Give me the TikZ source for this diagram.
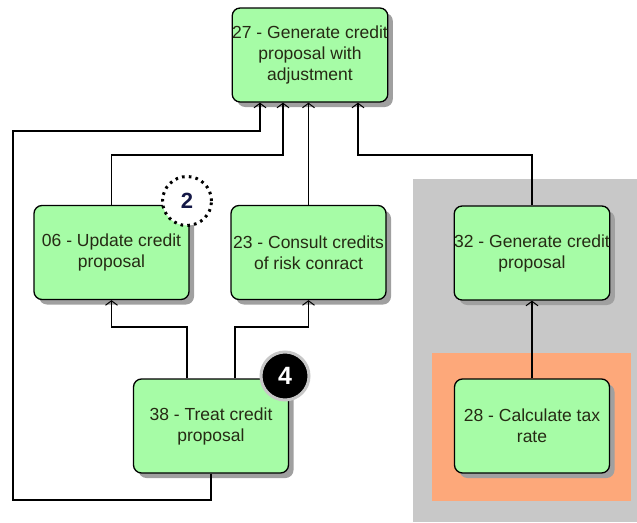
\documentclass[tikz,border=0pt]{standalone}
\usepackage{fontspec}
\setmainfont{Liberation Sans}
\usetikzlibrary{arrows.meta,shadows,calc}

\definecolor{procgreen}{RGB}{166,252,166}
\definecolor{proctext}{RGB}{38,42,20}
\definecolor{groupgray}{RGB}{200,200,200}
\definecolor{grouporange}{RGB}{253,168,122}
\definecolor{shadowgray}{RGB}{160,160,160}
\definecolor{badgeblue}{RGB}{20,24,70}

\tikzset{
  proc/.style={draw=black, line width=1.3pt, fill=procgreen, rounded corners=8pt,
    minimum width=155pt, minimum height=94pt, inner sep=0pt, align=center,
    text=proctext, font=\fontsize{17.5}{21}\selectfont,
    drop shadow={shadow xshift=5pt, shadow yshift=-5pt, fill=shadowgray, opacity=1}},
  flow/.style={draw=black, line width=1.1pt,
    -{Straight Barb[length=4.5pt,width=12pt,line width=1pt]}},
  dotbadge/.style={circle, fill=white, draw=black, line width=3pt,
    dash pattern=on 2.6pt off 4.2pt, minimum size=49pt, inner sep=0pt,
    text=badgeblue, font=\fontsize{22}{22}\selectfont\bfseries},
  blackbadge/.style={circle, fill=black, draw=black!22, line width=3pt,
    minimum size=48pt, inner sep=0pt, text=white,
    font=\fontsize{25}{26}\selectfont\bfseries},
}

\begin{document}
\begin{tikzpicture}[x=1pt,y=-1pt]
  \useasboundingbox (0,0) rectangle (637,522);

  % group frames
  \fill[groupgray] (413,179) rectangle (637,522);
  \fill[grouporange] (432,353) rectangle (631,501);

  % process steps
  \node[proc] (n27) at (310,55) {27 - Generate credit\\proposal with\\adjustment};
  \node[proc] (n06) at (111.5,252.5) {06 - Update credit\\proposal};
  \node[proc] (n23) at (308.5,252.5) {23 - Consult credits\\of risk conract};
  \node[proc] (n32) at (532,253) {32 - Generate credit\\proposal};
  \node[proc] (n38) at (211,426) {38 - Treat credit\\proposal};
  \node[proc] (n28) at (532,426) {28 - Calculate tax\\rate};

  % bend points
  \coordinate (r1) at (13,500);
  \coordinate (r2) at (260,131);
  \coordinate (r3) at (283,155);
  \coordinate (r4) at (358,155);
  \coordinate (r5) at (187,327);
  \coordinate (r6) at (235,327);

  % connectors
  \draw[flow] (n38.south) |- (r1) |- (r2) -- (r2 |- n27.south);
  \draw[flow] (n06.north) |- (r3) -- (r3 |- n27.south);
  \draw[flow] (n23.north) -- (n23.north |- n27.south);
  \draw[flow] (n32.north) |- (r4) -- (r4 |- n27.south);
  \draw[flow] (n38.north -| r5) |- (n06.south |- r5) -- (n06.south);
  \draw[flow] (n38.north -| r6) |- (n23.south |- r6) -- (n23.south);
  \draw[flow] (n28.north) -- (n32.south);

  % badges
  \node[dotbadge] (b2) at (187,201) {2};
  \node[blackbadge] (b4) at (285,376) {4};
\end{tikzpicture}
\end{document}
